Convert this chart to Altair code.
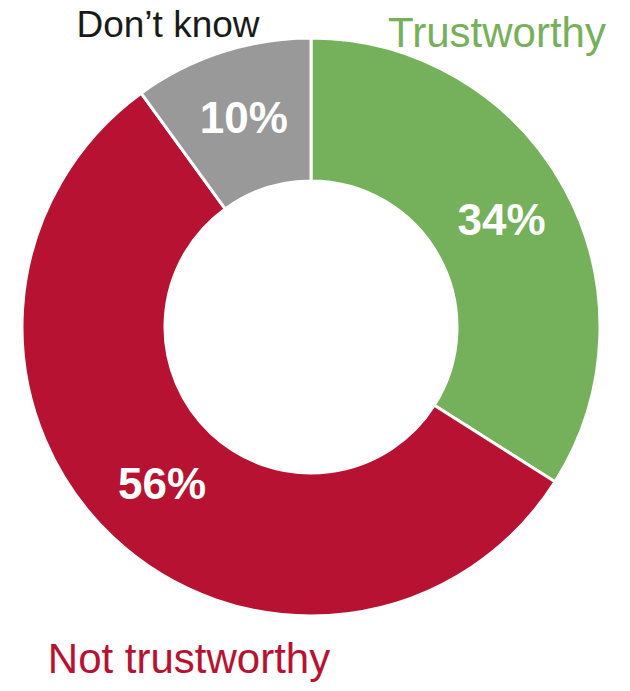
import altair as alt
import pandas as pd

categories = ["Trustworthy", "Not trustworthy", "Don\u2019t know"]
values = [34, 56, 10]
labels = ["34%", "56%", "10%"]
colors = ["#75B05A", "#B81233", "#999999"]
order = [1, 2, 3]

df = pd.DataFrame({"category": categories, "value": values, "label": labels, "order": order})

TOP = 6
CX, CY = 303, 319 - TOP
R_OUT, R_IN = 289, 146
FONT = "Liberation Sans"

base = alt.Chart(df).encode(
    theta=alt.Theta("value:Q", stack=True),
    order=alt.Order("order:Q"),
    x=alt.value(CX),
    y=alt.value(CY),
)

arcs = base.mark_arc(outerRadius=R_OUT, innerRadius=R_IN, stroke="white", strokeWidth=3).encode(
    color=alt.Color("category:N", scale=alt.Scale(domain=categories, range=colors), legend=None)
)

pct = base.mark_text(radius=(R_OUT + R_IN) / 2, font=FONT, fontSize=44, fontWeight="bold",
                     color="white", align="center", baseline="middle").encode(text="label:N")

ann_df = pd.DataFrame({
    "text": ["Trustworthy", "Don\u2019t know", "Not trustworthy"],
    "color": ["#75B05A", "#1a1a1a", "#B81233"],
    "px": [489, 160, 181],
    "py": [39 - TOP, 29 - TOP, 665 - TOP],
    "size": [42, 37, 42],
})

ann = alt.Chart(ann_df).mark_text(font=FONT, align="center", baseline="alphabetic").encode(
    x=alt.X("px:Q", scale=None),
    y=alt.Y("py:Q", scale=None),
    text="text:N",
    color=alt.Color("color:N", scale=None),
    size=alt.Size("size:Q", scale=None),
)

chart = alt.layer(arcs, pct, ann).properties(
    width=614, height=675 - TOP,
    padding={"top": TOP, "left": 0, "right": 0, "bottom": 0},
    autosize=alt.AutoSizeParams(type="none"),
).configure_view(stroke=None)

chart.save("out.html", embed_options={"renderer": "svg", "actions": False})
